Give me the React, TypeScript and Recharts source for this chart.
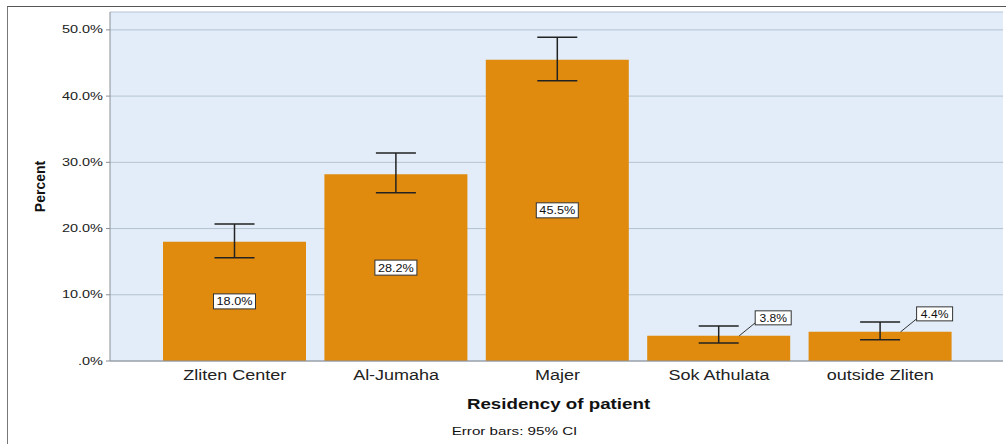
import { Bar, BarChart, CartesianGrid, ErrorBar, LabelList, XAxis, YAxis } from 'recharts'

const categories = ['Zliten Center', 'Al-Jumaha', 'Majer', 'Sok Athulata', 'outside Zliten']
const percent = [18.0, 28.2, 45.5, 3.8, 4.4]
// 95% confidence interval bounds for each category
const ciLower = [15.6, 25.4, 42.3, 2.7, 3.2]
const ciUpper = [20.7, 31.4, 48.9, 5.3, 5.9]
const yTicks = [0, 10, 20, 30, 40, 50]

const data = categories.map((name, i) => ({
  name,
  percent: percent[i],
  ci: [percent[i] - ciLower[i], ciUpper[i] - percent[i]],
}))

const FONT = '"Liberation Sans", Arial, sans-serif'

// text that is drawn a little wider than the font's natural width
function WideText({ x, y, sx, children, ...rest }: any) {
  return (
    <text transform={`translate(${x},${y}) scale(${sx},1)`} fontFamily={FONT} fill="#111" {...rest}>
      {children}
    </text>
  )
}

function ValueLabel(props: any) {
  const { x, y, width, height, value } = props
  const text = `${Number(value).toFixed(1)}%`
  if (Number(value) >= 10) {
    const cx = x + width / 2
    const cy = y + height / 2
    return (
      <g>
        <rect x={cx - 21} y={cy - 7.5} width={42} height={15} fill="#fff" stroke="#333" strokeWidth={1} />
        <WideText x={cx} y={cy + 4} sx={1.15} textAnchor="middle" fontSize={11}>
          {text}
        </WideText>
      </g>
    )
  }
  // small bars: label sits outside with a leader line
  const bx = x + 108
  const by = y - 25
  return (
    <g>
      <line x1={x + 92} y1={y} x2={bx} y2={by + 12} stroke="#333" strokeWidth={1} />
      <rect x={bx} y={by} width={36} height={14} fill="#fff" stroke="#333" strokeWidth={1} />
      <WideText x={bx + 18} y={by + 11} sx={1.1} textAnchor="middle" fontSize={11}>
        {text}
      </WideText>
    </g>
  )
}

function AxisTitles(props: any) {
  const { viewBox } = props
  const cx = viewBox.x + viewBox.width / 2
  return (
    <g>
      <WideText x={cx + 2} y={viewBox.y + 48} sx={1.25} textAnchor="middle" fontSize={15} fontWeight="bold">
        Residency of patient
      </WideText>
      <WideText x={cx - 42} y={viewBox.y + 74} sx={1.38} textAnchor="middle" fontSize={11}>
        Error bars: 95% CI
      </WideText>
    </g>
  )
}

function PercentTitle(props: any) {
  const { viewBox } = props
  const x = viewBox.x + 40
  const y = viewBox.y + viewBox.height / 2
  return (
    <text
      x={x}
      y={y}
      transform={`rotate(-90 ${x} ${y})`}
      textAnchor="middle"
      dominantBaseline="central"
      fontSize={14}
      fontWeight="bold"
      fontFamily={FONT}
      fill="#111"
    >
      Percent
    </text>
  )
}

function CategoryTick(props: any) {
  const { x, y, payload } = props
  return (
    <WideText x={x} y={y} sx={1.2} textAnchor="middle" dy="0.71em" fontSize={15} fill="#222">
      {payload.value}
    </WideText>
  )
}

function PercentTick(props: any) {
  const { x, y, payload } = props
  const v = Number(payload.value)
  return (
    <WideText x={x} y={y} sx={1.45} textAnchor="end" dy="0.355em" fontSize={10} fill="#222">
      {v === 0 ? '.0%' : `${v.toFixed(1)}%`}
    </WideText>
  )
}

export default function App() {
  return (
    <div style={{ position: 'fixed', left: 0, top: 0, width: 1007, height: 444, background: '#fff' }}>
      <div
        style={{
          position: 'absolute',
          left: 7,
          top: 6,
          width: 998,
          height: 438,
          borderLeft: '1.5px solid #777',
          borderTop: '1.5px solid #555',
        }}
      />
      <BarChart
        width={1007}
        height={444}
        data={data}
        margin={{ top: 12, right: 4, bottom: 0, left: 0 }}
        barCategoryGap={9}
        style={{ position: 'absolute', left: 0, top: 0 }}
      >
        <CartesianGrid vertical={false} fill="#e2edf9" stroke="#b5c3d1" strokeWidth={1} />
        <XAxis
          dataKey="name"
          height={83}
          padding={{ left: 44, right: 42 }}
          tickLine={false}
          tickSize={6}
          stroke="#8a8f96"
          tick={<CategoryTick />}
          label={<AxisTitles />}
        />
        <YAxis
          width={110}
          domain={[0, 52.7]}
          ticks={yTicks}
          tickSize={4}
          tickMargin={3}
          stroke="#8a8f96"
          tick={<PercentTick />}
          label={<PercentTitle />}
        />
        <Bar dataKey="percent" fill="#e08a0e" isAnimationActive={false}>
          <ErrorBar dataKey="ci" width={20} stroke="#222" strokeWidth={1.5} direction="y" />
          <LabelList dataKey="percent" content={<ValueLabel />} />
        </Bar>
      </BarChart>
    </div>
  )
}
